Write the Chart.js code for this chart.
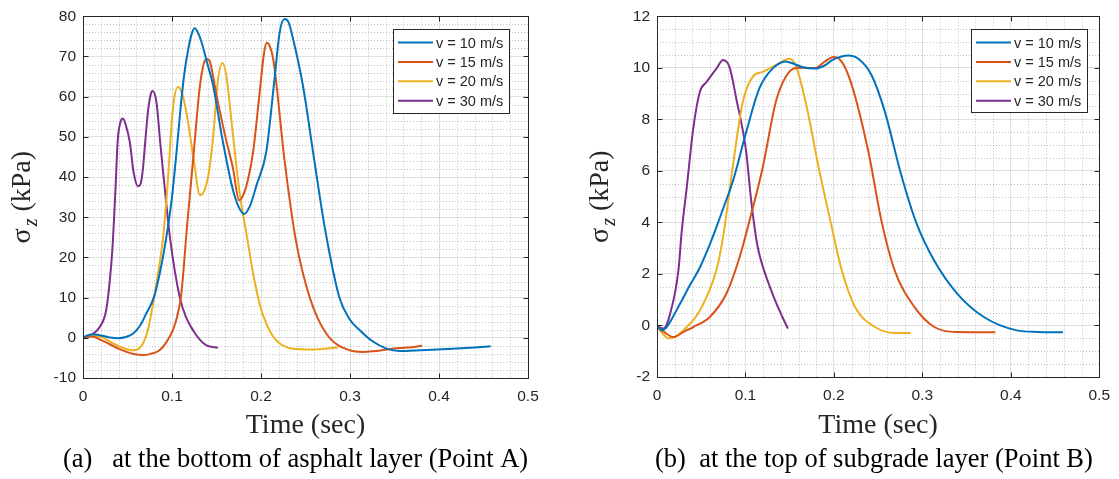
<!DOCTYPE html>
<html>
<head>
<meta charset="utf-8">
<script src="https://cdn.jsdelivr.net/npm/chart.js@4.4.0/dist/chart.umd.min.js"></script>
<style>
  body { margin: 0; background: #fff; }
  #wrap { position: relative; width: 1119px; height: 479px; }
  canvas { position: absolute; top: 0; }
</style>
</head>
<body>
<div id="wrap">
  <canvas id="chart_a" width="560" height="479" style="left:0"></canvas>
  <canvas id="chart_b" width="559" height="479" style="left:560px"></canvas>
</div>
<script>
// vehicle speeds and MATLAB default line colours
const speed_labels = ['v = 10 m/s', 'v = 15 m/s', 'v = 20 m/s', 'v = 30 m/s'];
const line_colors = ['#0072BD', '#D95319', '#EDB120', '#7E2F8E'];

// tick values
const time_ticks = [0, 0.1, 0.2, 0.3, 0.4, 0.5];
const ticks_a = [-10, 0, 10, 20, 30, 40, 50, 60, 70, 80];
const ticks_b = [-2, 0, 2, 4, 6, 8, 10, 12];

// Point A (bottom of asphalt layer): time in sec, sigma_z in kPa
const time_a10 = [0, 0.005, 0.012, 0.02, 0.03, 0.04, 0.048, 0.056, 0.064, 0.071, 0.08, 0.088, 0.095, 0.1, 0.105, 0.11, 0.114, 0.118, 0.122, 0.1255, 0.13, 0.134, 0.14, 0.146, 0.157, 0.168, 0.175, 0.181, 0.188, 0.195, 0.206, 0.215, 0.221, 0.2266, 0.231, 0.236, 0.247, 0.26, 0.272, 0.288, 0.3, 0.311, 0.325, 0.341, 0.356, 0.38, 0.41, 0.44, 0.458];
const sigma_a10 = [0, 0.6, 0.9, 0.6, 0.1, -0.1, 0.2, 1.0, 3.0, 6.0, 10.3, 18, 27, 35, 46, 58, 66, 71.5, 75.5, 77, 75.5, 73, 68, 63, 49, 37.2, 32.5, 30.8, 33, 38, 46.4, 64, 76, 79.3, 78.5, 74.4, 62.9, 44, 27, 10.1, 4.5, 1.9, -0.8, -2.7, -3.3, -3.1, -2.8, -2.4, -2.1];

const time_a15 = [0, 0.01, 0.02, 0.03, 0.04, 0.049, 0.058, 0.067, 0.076, 0.086, 0.094, 0.101, 0.106, 0.1105, 0.117, 0.1236, 0.131, 0.136, 0.1393, 0.142, 0.15, 0.16, 0.1685, 0.1753, 0.18, 0.185, 0.191, 0.198, 0.2035, 0.2065, 0.21, 0.214, 0.2266, 0.239, 0.2547, 0.2735, 0.2997, 0.3146, 0.33, 0.348, 0.365, 0.381];
const sigma_a15 = [0, 0.3, -0.5, -1.6, -2.7, -3.5, -4.1, -4.3, -4.0, -3.1, -1.0, 1.9, 5.5, 11, 28, 44, 62, 68.5, 69.4, 69, 60.4, 50, 42.2, 34.2, 35.5, 39, 46, 60, 71, 73.4, 72.5, 69, 43.9, 24.5, 10.1, 1.0, -3.1, -3.5, -3.3, -2.7, -2.4, -2.0];

const time_a20 = [0, 0.007, 0.013, 0.022, 0.034, 0.045, 0.056, 0.062, 0.0674, 0.073, 0.0787, 0.085, 0.09, 0.095, 0.101, 0.1067, 0.111, 0.116, 0.124, 0.1315, 0.137, 0.142, 0.147, 0.151, 0.1566, 0.161, 0.1685, 0.176, 0.1836, 0.192, 0.199, 0.206, 0.213, 0.221, 0.236, 0.258, 0.2865];
const sigma_a20 = [0, 0.5, 0.6, 0.1, -1.4, -2.5, -3.1, -2.8, -1.4, 2, 8.5, 17, 25, 38, 57, 62.4, 61, 56.3, 45, 35.5, 37, 42, 52, 63, 68.4, 65.3, 50.5, 36, 26, 15, 8, 3.5, 0.5, -1.4, -2.7, -2.9, -2.4];

const time_a30 = [0, 0.01, 0.0188, 0.026, 0.03, 0.033, 0.0365, 0.039, 0.0425, 0.0449, 0.048, 0.0525, 0.057, 0.0618, 0.065, 0.0674, 0.07, 0.073, 0.076, 0.078, 0.0825, 0.087, 0.0918, 0.0982, 0.1087, 0.116, 0.1236, 0.131, 0.1387, 0.1517];
const sigma_a30 = [0, 0.8, 2.7, 6.8, 14, 22, 37, 49, 54, 54.6, 53, 48.8, 41, 37.7, 38.5, 42.2, 49, 56.3, 60.5, 61.4, 58.7, 48, 37.3, 24.1, 10.1, 5, 1.9, -0.4, -1.9, -2.5];

// Point B (top of subgrade layer)
const time_b10 = [0, 0.0056, 0.01, 0.015, 0.026, 0.037, 0.0485, 0.058, 0.067, 0.0765, 0.0858, 0.1008, 0.1157, 0.1306, 0.1456, 0.155, 0.164, 0.179, 0.19, 0.198, 0.2165, 0.2277, 0.2426, 0.2576, 0.276, 0.293, 0.3135, 0.3396, 0.3695, 0.4068, 0.43, 0.459];
const sigma_b10 = [-0.03, -0.19, -0.1, 0.15, 0.84, 1.55, 2.25, 3.0, 3.8, 4.7, 5.6, 7.5, 9.2, 9.97, 10.25, 10.15, 10.03, 9.97, 10.1, 10.3, 10.48, 10.35, 9.71, 8.3, 5.86, 4.0, 2.51, 1.23, 0.33, -0.19, -0.25, -0.26];

const time_b15 = [0, 0.008, 0.0186, 0.03, 0.041, 0.0597, 0.0784, 0.0933, 0.1045, 0.1194, 0.1344, 0.1456, 0.1568, 0.168, 0.179, 0.19, 0.1997, 0.209, 0.2202, 0.2389, 0.2538, 0.2688, 0.2912, 0.3135, 0.3396, 0.3826];
const sigma_b15 = [-0.05, -0.25, -0.45, -0.25, -0.06, 0.33, 1.23, 2.64, 4.05, 6.11, 8.68, 9.65, 9.99, 10.0, 9.99, 10.25, 10.42, 10.23, 9.33, 6.76, 4.06, 2.13, 0.71, -0.06, -0.25, -0.26];

const time_b20 = [0, 0.006, 0.013, 0.02, 0.0298, 0.0485, 0.067, 0.0746, 0.0858, 0.097, 0.1082, 0.1194, 0.1344, 0.1493, 0.1568, 0.168, 0.1829, 0.196, 0.209, 0.224, 0.2464, 0.2688, 0.2867];
const sigma_b20 = [-0.05, -0.3, -0.5, -0.45, -0.19, 0.58, 2.13, 3.41, 6.2, 8.68, 9.65, 9.84, 10.1, 10.35, 10.1, 8.68, 6.11, 4.06, 2.13, 0.71, -0.06, -0.29, -0.29];

const time_b30 = [0, 0.0074, 0.0149, 0.0242, 0.028, 0.0336, 0.041, 0.0485, 0.056, 0.0672, 0.0746, 0.082, 0.0896, 0.1008, 0.106, 0.112, 0.1157, 0.1306, 0.1418, 0.148];
const sigma_b30 = [-0.03, -0.12, 0.46, 2.13, 3.67, 5.34, 7.65, 9.07, 9.45, 9.97, 10.3, 10.03, 8.81, 6.76, 5.0, 3.41, 2.76, 1.23, 0.33, -0.12];

const AXIS_COLOR = '#262626';
const TICK_FONT = { family: 'Liberation Sans', size: 15.5 };

function toPoints(times, values) {
  return times.map(function (t, i) { return { x: t, y: values[i] }; });
}

function makeDatasets(times, values) {
  return times.map(function (t, k) {
    return {
      label: speed_labels[k],
      data: toPoints(t, values[k]),
      showLine: true,
      borderColor: line_colors[k],
      backgroundColor: line_colors[k],
      borderWidth: 2,
      pointRadius: 0,
      cubicInterpolationMode: 'monotone'
    };
  });
}

function fmt(v) { return String(+v.toFixed(2)); }

// MATLAB style decorations: dotted minor grid, boxed axes with inward ticks,
// legend inside the axes, axis titles and the caption under the plot
function matlabStyle(s) {
  return {
    id: 'matlabStyle',
    beforeDatasetsDraw: function (chart) {
      const ctx = chart.ctx, a = chart.chartArea;
      const xs = chart.scales.x, ys = chart.scales.y;
      ctx.save();
      ctx.strokeStyle = 'rgba(38,38,38,0.28)';
      ctx.lineWidth = 1;
      ctx.setLineDash([1, 2]);
      let n = Math.round((xs.max - xs.min) / s.minorX);
      let every = Math.round(s.majorX / s.minorX);
      for (let i = 1; i < n; i++) {
        if (i % every === 0) continue;
        const px = Math.round(xs.getPixelForValue(xs.min + i * s.minorX)) + 0.5;
        ctx.beginPath(); ctx.moveTo(px, a.top); ctx.lineTo(px, a.bottom); ctx.stroke();
      }
      n = Math.round((ys.max - ys.min) / s.minorY);
      every = Math.round(s.majorY / s.minorY);
      for (let i = 1; i < n; i++) {
        if (i % every === 0) continue;
        const py = Math.round(ys.getPixelForValue(ys.min + i * s.minorY)) + 0.5;
        ctx.beginPath(); ctx.moveTo(a.left, py); ctx.lineTo(a.right, py); ctx.stroke();
      }
      ctx.restore();
    },
    afterDatasetsDraw: function (chart) {
      const ctx = chart.ctx, a = chart.chartArea;
      const xs = chart.scales.x, ys = chart.scales.y;
      const l = Math.round(a.left) + 0.5, r = Math.round(a.right) + 0.5;
      const t = Math.round(a.top) + 0.5, b = Math.round(a.bottom) + 0.5;
      ctx.save();
      ctx.strokeStyle = AXIS_COLOR;
      ctx.lineWidth = 1;
      ctx.strokeRect(l, t, r - l, b - t);
      ctx.beginPath();
      xs.ticks.forEach(function (tk) {
        const px = Math.round(xs.getPixelForValue(tk.value)) + 0.5;
        ctx.moveTo(px, b); ctx.lineTo(px, b - 5);
        ctx.moveTo(px, t); ctx.lineTo(px, t + 5);
      });
      ys.ticks.forEach(function (tk) {
        const py = Math.round(ys.getPixelForValue(tk.value)) + 0.5;
        ctx.moveTo(l, py); ctx.lineTo(l + 5, py);
        ctx.moveTo(r, py); ctx.lineTo(r - 5, py);
      });
      ctx.stroke();
      ctx.restore();
    },
    afterDraw: function (chart) {
      const ctx = chart.ctx, a = chart.chartArea;
      ctx.save();

      // legend
      const lb = s.legend;
      ctx.fillStyle = '#fff';
      ctx.fillRect(lb.x, lb.y, lb.w, lb.h);
      ctx.strokeStyle = AXIS_COLOR;
      ctx.lineWidth = 1;
      ctx.strokeRect(lb.x + 0.5, lb.y + 0.5, lb.w, lb.h);
      ctx.font = '14.5px "Liberation Sans"';
      ctx.textBaseline = 'middle';
      ctx.textAlign = 'left';
      chart.data.datasets.forEach(function (ds, i) {
        const cy = lb.y + 13.5 + i * 19.4;
        ctx.strokeStyle = ds.borderColor;
        ctx.lineWidth = 2;
        ctx.beginPath();
        ctx.moveTo(lb.x + 5, cy); ctx.lineTo(lb.x + 40, cy);
        ctx.stroke();
        ctx.fillStyle = AXIS_COLOR;
        ctx.fillText(ds.label, lb.x + 43, cy + 1);
      });

      // y title: sigma_z (kPa), rotated
      ctx.fillStyle = AXIS_COLOR;
      ctx.textBaseline = 'alphabetic';
      const big = '28px "Liberation Serif"';
      const sub = 'italic 20px "Liberation Serif"';
      ctx.font = big;
      const w1 = ctx.measureText('\u03c3').width;
      const w3 = ctx.measureText(' (kPa)').width;
      ctx.font = sub;
      const w2 = ctx.measureText('z').width + 2;
      const total = w1 + w2 + w3;
      ctx.save();
      ctx.translate(s.yTitleX, (a.top + a.bottom) / 2);
      ctx.rotate(-Math.PI / 2);
      let x0 = -total / 2;
      ctx.font = big;
      ctx.fillText('\u03c3', x0, 0);
      ctx.font = sub;
      ctx.fillText('z', x0 + w1 + 2, 7);
      ctx.font = big;
      ctx.fillText(' (kPa)', x0 + w1 + w2, 0);
      ctx.restore();

      // x title
      ctx.font = big;
      ctx.textAlign = 'center';
      ctx.fillText('Time (sec)', (a.left + a.right) / 2, 433);

      // caption
      ctx.font = '26.5px "Liberation Serif"';
      ctx.textAlign = 'left';
      ctx.fillStyle = '#000';
      ctx.fillText(s.caption, s.captionX, 467);
      ctx.restore();
    }
  };
}

function buildChart(id, times, values, yTicks, s) {
  const ctx = document.getElementById(id).getContext('2d');
  return new Chart(ctx, {
    type: 'scatter',
    data: { datasets: makeDatasets(times, values) },
    options: {
      responsive: false,
      animation: false,
      layout: { padding: { left: 0, top: 14, right: s.padRight, bottom: 0 } },
      plugins: { legend: { display: false }, tooltip: { enabled: false } },
      scales: {
        x: {
          type: 'linear',
          min: time_ticks[0],
          max: time_ticks[time_ticks.length - 1],
          afterBuildTicks: function (scale) { scale.ticks = time_ticks.map(function (v) { return { value: v }; }); },
          afterFit: function (scale) { scale.height = 479 - s.bottom; },
          grid: { color: 'rgba(38,38,38,0.14)', drawTicks: false },
          border: { display: false },
          ticks: { padding: 9, color: AXIS_COLOR, font: TICK_FONT, maxRotation: 0, autoSkip: false, callback: fmt }
        },
        y: {
          type: 'linear',
          min: yTicks[0],
          max: yTicks[yTicks.length - 1],
          afterBuildTicks: function (scale) { scale.ticks = yTicks.map(function (v) { return { value: v }; }); },
          afterFit: function (scale) { scale.width = s.left; },
          grid: { color: 'rgba(38,38,38,0.14)', drawTicks: false },
          border: { display: false },
          ticks: { padding: 7, color: AXIS_COLOR, font: TICK_FONT, autoSkip: false, callback: fmt }
        }
      }
    },
    plugins: [matlabStyle(s)]
  });
}

var chart_a = buildChart('chart_a',
  [time_a10, time_a15, time_a20, time_a30],
  [sigma_a10, sigma_a15, sigma_a20, sigma_a30],
  ticks_a,
  {
    left: 83, padRight: 32, bottom: 378,
    minorX: 0.02, majorX: 0.1, minorY: 2, majorY: 10,
    legend: { x: 393, y: 29, w: 116, h: 84 },
    yTitleX: 30,
    caption: '(a)   at the bottom of asphalt layer (Point A)', captionX: 63
  });

var chart_b = buildChart('chart_b',
  [time_b10, time_b15, time_b20, time_b30],
  [sigma_b10, sigma_b15, sigma_b20, sigma_b30],
  ticks_b,
  {
    left: 97, padRight: 16, bottom: 377,
    minorX: 0.02, majorX: 0.1, minorY: 0.5, majorY: 2,
    legend: { x: 411, y: 29, w: 116, h: 83 },
    yTitleX: 48,
    caption: '(b)  at the top of subgrade layer (Point B)', captionX: 95
  });
</script>
</body>
</html>
